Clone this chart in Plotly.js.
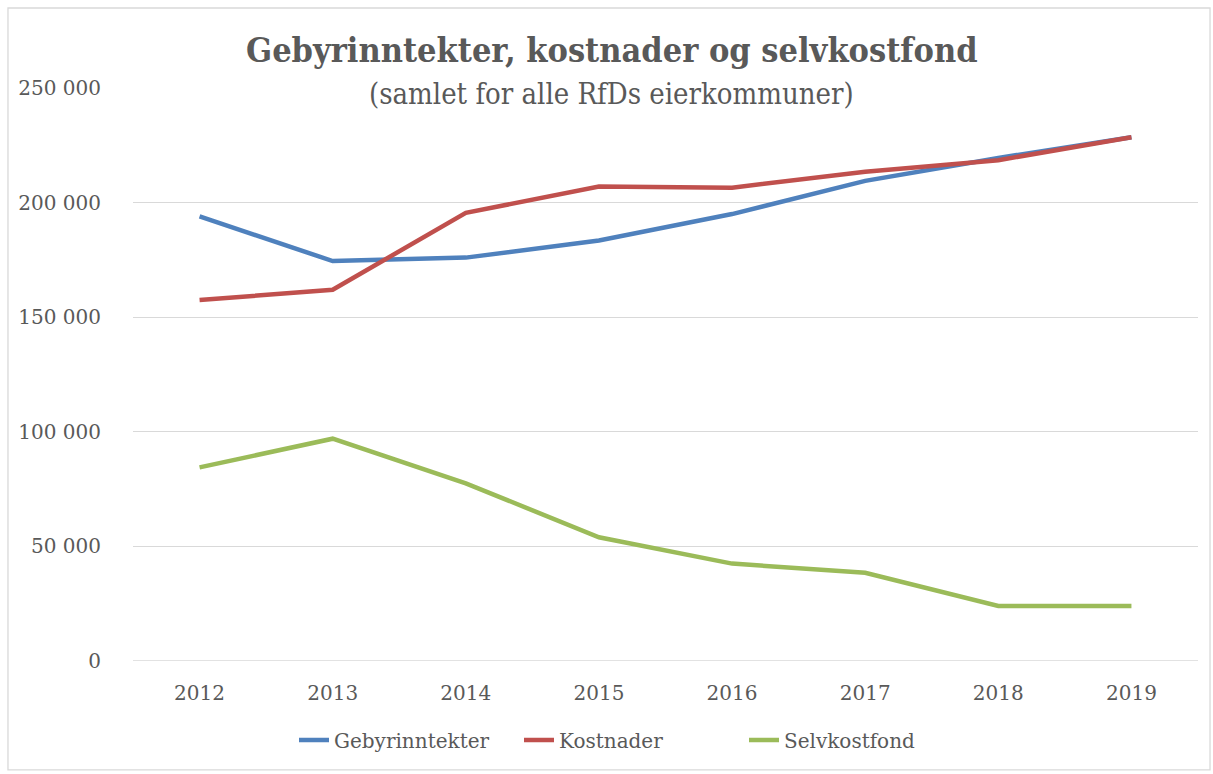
<!DOCTYPE html>
<html>
<head>
<meta charset="utf-8">
<script src="https://cdn.plot.ly/plotly-3.0.1.min.js"></script>
<style>html,body{margin:0;padding:0;background:#fff;}#chart{width:1213px;height:774px;}</style>
</head>
<body>
<div id="chart"></div>
<script>
const years = ['2012','2013','2014','2015','2016','2017','2018','2019'];
const gebyrinntekter = [194000, 174500, 176000, 183500, 195000, 209500, 219500, 228500];
const kostnader = [157500, 162000, 195500, 207000, 206500, 213500, 218500, 228500];
const selvkostfond = [84500, 97000, 77500, 54000, 42500, 38500, 24000, 24000];
const seriesNames = ['Gebyrinntekter', 'Kostnader', 'Selvkostfond'];
const colors = ['#4F81BD', '#C0504D', '#9BBB59'];
const yTicks = [0, 50000, 100000, 150000, 200000, 250000];

const serif = '"DejaVu Serif", "Liberation Serif", serif';
const serifCond = '"DejaVu Serif Condensed", "DejaVu Serif", serif';
const gray = '#595959';
const data = [gebyrinntekter, kostnader, selvkostfond].map((vals, i) => ({
  type: 'scatter', mode: 'lines', x: years, y: vals, name: seriesNames[i],
  line: {color: colors[i], width: 4.5}
}));

const layout = {
  width: 1213, height: 774,
  margin: {l: 133, r: 15, t: 88, b: 113},
  paper_bgcolor: '#fff', plot_bgcolor: '#fff',
  separators: ', ',
  showlegend: true,
  legend: {orientation: 'h', x: (294 - 133) / 1065, xanchor: 'left', y: (661 - 740) / 573, yanchor: 'middle',
    font: {family: serif, size: 20, color: gray}, entrywidth: 180, entrywidthmode: 'pixels',
    tracegroupgap: 0, bgcolor: 'rgba(0,0,0,0)'},
  xaxis: {type: 'category', range: [-0.5, 7.5], showgrid: false, zeroline: false,
    showline: false, ticks: 'outside', ticklen: 14, tickcolor: 'rgba(0,0,0,0)',
    tickfont: {family: serif, size: 20, color: gray}, fixedrange: true},
  yaxis: {range: [0, 250000], tickvals: yTicks, tickformat: ',d',
    showgrid: true, gridcolor: '#d9d9d9', gridwidth: 1.3, zeroline: false,
    showline: false, ticks: 'outside', ticklen: 27, tickcolor: 'rgba(0,0,0,0)',
    tickfont: {family: serif, size: 20, color: gray}, fixedrange: true},
  shapes: [
    {type: 'rect', xref: 'paper', yref: 'paper', x0: -0.1174, x1: 1.0113, y0: -0.19, y1: 1.1396,
      line: {color: '#d9d9d9', width: 1.3}, fillcolor: 'rgba(0,0,0,0)', layer: 'below'},
    {type: 'line', xref: 'paper', yref: 'y', x0: 0, x1: 1, y0: 0, y1: 0,
      line: {color: '#d9d9d9', width: 1.3}, layer: 'below'}
  ],
  annotations: [
    {xref: 'paper', yref: 'paper', x: 0.4497, y: (661 - 50) / 573, xanchor: 'center', yanchor: 'middle',
      text: '<b>Gebyrinntekter, kostnader og selvkostfond</b>', showarrow: false,
      font: {family: serifCond, size: 34, color: gray}},
    {xref: 'paper', yref: 'paper', x: 0.4497, y: (661 - 94) / 573, xanchor: 'center', yanchor: 'middle',
      text: '(samlet for alle RfDs eierkommuner)', showarrow: false,
      font: {family: serifCond, size: 29, color: gray}}
  ]
};

Plotly.newPlot('chart', data, layout, {displayModeBar: false, staticPlot: true});
</script>
</body>
</html>
